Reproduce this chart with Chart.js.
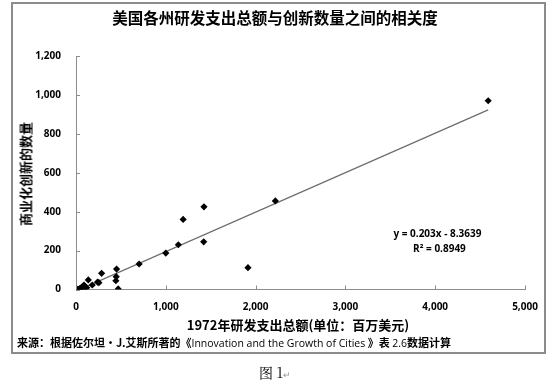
<!DOCTYPE html>
<html>
<head>
<meta charset="utf-8">
<script src="https://cdn.jsdelivr.net/npm/chart.js@4/dist/chart.umd.min.js"></script>
<style>
  html, body { margin: 0; padding: 0; background: #fff; }
  #wrap { position: relative; width: 550px; height: 388px; overflow: hidden; }
  #frame { position: absolute; left: 11px; top: 2px; width: 531px; height: 348px; border: 2px solid #8c8c8c; }
  canvas { position: absolute; left: 0; top: 0; }
  .txt { position: absolute; white-space: nowrap; color: #000; font-family: "Noto Sans CJK SC", sans-serif; }
  #title { left: 0; width: 550px; top: 6px; text-align: center; font-size: 15.5px; font-weight: bold; }
  #ytitle { left: 25px; top: 174px; font-size: 13px; font-weight: bold; transform: translate(-50%, -50%) rotate(-90deg); }
  #xtitle { left: 298px; top: 315px; font-size: 13px; font-weight: bold; transform: translateX(-50%); }
  #source { left: 17px; top: 334px; font-size: 11px; font-weight: bold; }
  #source .en { font-family: "Open Sans", sans-serif; font-weight: normal; font-size: 10.5px; }
  #caption { left: 0; width: 550px; top: 362px; text-align: center; font-size: 14px; font-family: "Noto Serif CJK SC", "Noto Sans CJK SC", serif; }
  #caption span { font-size: 9px; color: #999; }
</style>
</head>
<body>
<div id="wrap">
  <div id="frame"></div>
  <canvas id="chart" width="550" height="388"></canvas>
  <div class="txt" id="title">美国各州研发支出总额与创新数量之间的相关度</div>
  <div class="txt" id="ytitle">商业化创新的数量</div>
  <div class="txt" id="xtitle">1972年研发支出总额(单位：百万美元)</div>
  <div class="txt" id="source">来源：根据佐尔坦·J.艾斯所著的《<span class="en">Innovation and the Growth of Cities</span> 》表 <span class="en">2.6</span>数据计算</div>
  <div class="txt" id="caption">图 1<span>↵</span></div>
</div>
<script>
// R&D spending 1972 (million USD) per state
const rdSpending = [10, 26, 45, 63, 81, 89, 100, 119, 137, 181, 240, 255, 285, 444, 448, 452, 470, 703, 1000, 1140, 1193, 1422, 1425, 1915, 2220, 4590];
// number of commercial innovations
const innovations = [2, 1, 6, 11, 3, 23, 14, 9, 49, 23, 38, 35, 83, 45, 66, 105, 3, 131, 187, 230, 360, 245, 425, 112, 455, 970];

// trendline reported on the chart
const slope = 0.203;
const intercept = -8.3639;
const rSquared = 0.8949;
const trendRange = [0, 4590];

const xTicks = [0, 1000, 2000, 3000, 4000, 5000];
const yTicks = [0, 200, 400, 600, 800, 1000, 1200];

const points = rdSpending.map((x, i) => ({ x: x, y: innovations[i] }));
const trendPoints = trendRange.map(x => ({ x: x, y: slope * x + intercept }));

const fmt = v => v.toLocaleString('en-US');
const tickFont = { family: '"Open Sans", sans-serif', size: 10, weight: 'bold' };

// small tick marks drawn inside the plot, like Excel
const innerTicks = {
    id: 'innerTicks',
    afterDraw(chart) {
        const ctx = chart.ctx;
        const a = chart.chartArea;
        const xs = chart.scales.x, ys = chart.scales.y;
        ctx.save();
        ctx.strokeStyle = '#8c8c8c';
        ctx.lineWidth = 1;
        ctx.beginPath();
        xTicks.forEach(t => {
            const px = Math.round(xs.getPixelForValue(t)) + 0.5;
            ctx.moveTo(px, a.bottom);
            ctx.lineTo(px, a.bottom - 4);
        });
        yTicks.forEach(t => {
            const py = Math.round(ys.getPixelForValue(t)) + 0.5;
            ctx.moveTo(a.left, py);
            ctx.lineTo(a.left + 4, py);
        });
        ctx.stroke();

        // trendline equation
        ctx.fillStyle = '#000';
        ctx.font = 'bold 10px "Open Sans", sans-serif';
        ctx.textAlign = 'center';
        ctx.textBaseline = 'middle';
        const cx = a.left + (a.right - a.left) * 0.805;
        ctx.fillText('y = ' + slope + 'x - ' + Math.abs(intercept), cx, 234);
        ctx.fillText('R² = ' + rSquared, cx + 2, 249);
        ctx.restore();
    }
};

new Chart(document.getElementById('chart'), {
    type: 'scatter',
    data: {
        datasets: [{
            label: 'states',
            data: points,
            pointStyle: 'rectRot',
            pointRadius: 3.6,
            pointHoverRadius: 3.6,
            backgroundColor: '#000',
            borderColor: '#000',
            borderWidth: 0
        }, {
            type: 'line',
            label: 'trend',
            data: trendPoints,
            borderColor: '#6e6e6e',
            borderWidth: 1.3,
            pointRadius: 0,
            fill: false
        }]
    },
    options: {
        responsive: false,
        animation: false,
        events: [],
        layout: { padding: { top: 56, right: 25, left: 0, bottom: 0 } },
        plugins: {
            legend: { display: false },
            tooltip: { enabled: false }
        },
        scales: {
            x: {
                type: 'linear',
                min: 0,
                max: 5000,
                afterFit: s => { s.height = 98.5; },
                afterBuildTicks: s => { s.ticks = xTicks.map(v => ({ value: v })); },
                grid: { display: false },
                border: { color: '#8c8c8c', width: 1 },
                ticks: { callback: fmt, color: '#000', font: tickFont, padding: 4, maxRotation: 0 }
            },
            y: {
                type: 'linear',
                min: 0,
                max: 1200,
                afterFit: s => { s.width = 76; },
                afterBuildTicks: s => { s.ticks = yTicks.map(v => ({ value: v })); },
                grid: { display: false },
                border: { color: '#8c8c8c', width: 1 },
                ticks: { callback: fmt, color: '#000', font: tickFont, padding: 7 }
            }
        }
    },
    plugins: [innerTicks]
});
</script>
</body>
</html>
